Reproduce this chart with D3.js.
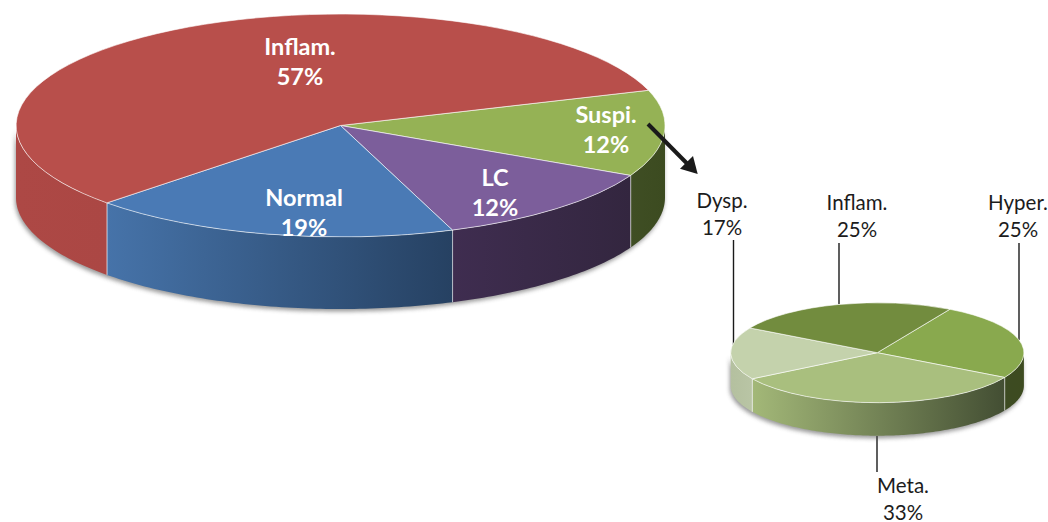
<!DOCTYPE html>
<html>
<head>
<meta charset="utf-8">
<script src="https://cdn.jsdelivr.net/npm/d3@7"></script>
<style>
  html, body { margin: 0; padding: 0; background: #fff; }
  svg { display: block; }
  text { font-family: Lato, "Open Sans", sans-serif; text-anchor: middle; }
</style>
</head>
<body>
<div id="chart"></div>
<script>
const mainCategories = ["Suspi.", "LC", "Normal", "Inflam."];
// slice sizes as measured on the picture, the printed labels are rounded differently
const mainValues = [12.5, 12, 18.4, 57.1];
const mainLabels = ["12%", "12%", "19%", "57%"];
const detailCategories = ["Hyper.", "Meta.", "Dysp.", "Inflam."];
const detailValues = [25, 33, 17, 25];
const detailLabels = ["25%", "33%", "17%", "25%"];

(function() {
  const width = 1048;
  const height = 522;
  const deg = Math.PI / 180;

  const svg = d3.select("#chart")
    .append("svg")
    .attr("width", width)
    .attr("height", height)
    .attr("viewBox", `0 0 ${width} ${height}`);

  const defs = svg.append("defs");
  defs.append("filter")
    .attr("id", "soft")
    .attr("x", "-5%").attr("y", "-10%").attr("width", "110%").attr("height", "120%")
    .append("feGaussianBlur")
    .attr("stdDeviation", 2.2);

  // one 3D pie: flat top from d3.arc, the front wall sampled along the rim
  function drawPie(id, o) {
    const g = svg.append("g").attr("class", id);
    const slices = d3.pie().sort(null)
      .startAngle(o.start * deg)
      .endAngle((o.start + 360) * deg)(o.values);

    const px = a => o.cx + o.rx * Math.sin(a);
    const py = a => o.cy - o.ry * Math.cos(a);
    const line = d3.line();

    const wallPoints = (a0, a1) => {
      const n = Math.max(2, Math.ceil((a1 - a0) / deg));
      const angles = d3.range(n + 1).map(i => a0 + (a1 - a0) * i / n);
      const topEdge = angles.map(a => [px(a), py(a)]);
      const bottomEdge = angles.slice().reverse().map(a => [px(a), py(a) + o.depth]);
      return topEdge.concat(bottomEdge);
    };

    // shadow under the disc
    g.append("path")
      .attr("d", line(wallPoints(90 * deg, 270 * deg)) + "Z")
      .attr("transform", "translate(-1,2.5)")
      .attr("fill", "#555")
      .attr("opacity", 0.6)
      .attr("filter", "url(#soft)");

    slices.forEach((s, i) => {
      const a0 = Math.max(s.startAngle, 90 * deg);
      const a1 = Math.min(s.endAngle, 270 * deg);
      if (a1 <= a0) return;
      const gid = `${id}-wall-${i}`;
      const gr = defs.append("linearGradient")
        .attr("id", gid)
        .attr("gradientUnits", "userSpaceOnUse")
        .attr("x1", Math.min(px(a0), px(a1)))
        .attr("x2", Math.max(px(a0), px(a1)))
        .attr("y1", 0).attr("y2", 0);
      gr.append("stop").attr("offset", 0).attr("stop-color", o.wallColors[i][0]);
      gr.append("stop").attr("offset", 1).attr("stop-color", o.wallColors[i][1]);

      g.append("path")
        .attr("d", line(wallPoints(a0, a1)) + "Z")
        .attr("fill", `url(#${gid})`);

      // seam between two walls
      [s.startAngle, s.endAngle].forEach(a => {
        if (a > 90.5 * deg && a < 269.5 * deg) {
          g.append("line")
            .attr("x1", px(a)).attr("x2", px(a))
            .attr("y1", py(a)).attr("y2", py(a) + o.depth)
            .attr("stroke", "#fff")
            .attr("stroke-opacity", 0.5)
            .attr("stroke-width", 1);
        }
      });
    });

    const arc = d3.arc().innerRadius(0).outerRadius(1);
    g.selectAll("path.top")
      .data(slices)
      .join("path")
      .attr("class", "top")
      .attr("d", arc)
      .attr("transform", `translate(${o.cx},${o.cy}) scale(${o.rx},${o.ry})`)
      .attr("fill", (d, i) => o.topColors[i])
      .attr("stroke", "#fff")
      .attr("stroke-opacity", 0.6)
      .attr("stroke-width", 1)
      .attr("vector-effect", "non-scaling-stroke");
  }

  // leader lines go under the small pie
  const leaders = [
    [733.5, 240, 358],
    [839, 243, 304],
    [1019, 243, 340],
    [877, 436, 472]
  ];
  svg.append("g").selectAll("line")
    .data(leaders)
    .join("line")
    .attr("x1", d => d[0]).attr("x2", d => d[0])
    .attr("y1", d => d[1]).attr("y2", d => d[2])
    .attr("stroke", "#1a1a1a")
    .attr("stroke-width", 1.4);

  drawPie("main", {
    cx: 340.5, cy: 125.5, rx: 324.5, ry: 111.5, depth: 72, start: 71.6,
    values: mainValues,
    topColors: ["#95b255", "#7c5e9b", "#4a7ab5", "#b84f4b"],
    wallColors: [
      ["#3f4e24", "#3c4b20"],
      ["#3f2d50", "#33263f"],
      ["#4673a9", "#264162"],
      ["#ad4845", "#ab4744"]
    ]
  });

  drawPie("detail", {
    cx: 877.3, cy: 352.7, rx: 146.6, ry: 50, depth: 33, start: 29.7,
    values: detailValues,
    topColors: ["#89a94e", "#a9bf7e", "#c4d2ac", "#728c3e"],
    wallColors: [
      ["#3d4b22", "#3d4b20"],
      ["#a3b878", "#434e33"],
      ["#b4c09f", "#b9c5a5"],
      ["#728c3e", "#728c3e"]
    ]
  });

  // arrow from the Suspi. slice to the detail pie
  svg.append("line")
    .attr("x1", 648).attr("y1", 124)
    .attr("x2", 689).attr("y2", 165.5)
    .attr("stroke", "#1a1a1a")
    .attr("stroke-width", 4);
  svg.append("path")
    .attr("d", d3.line()([[693, 156], [680, 168.7], [697.7, 174]]) + "Z")
    .attr("fill", "#1a1a1a");

  // labels of the big pie
  const mainLabelPos = [[606, 115], [495, 178], [304, 198], [300, 47]];
  mainCategories.forEach((c, i) => {
    const t = svg.append("text")
      .attr("fill", "#fff")
      .attr("font-weight", 700)
      .attr("font-size", 23.5);
    t.append("tspan").attr("x", mainLabelPos[i][0]).attr("y", mainLabelPos[i][1] + 8).text(c);
    t.append("tspan").attr("x", mainLabelPos[i][0]).attr("y", mainLabelPos[i][1] + 38).text(mainLabels[i]);
  });

  // labels of the small pie
  const detailLabelPos = [[1018, 203], [903, 486], [722, 201], [857, 203]];
  detailCategories.forEach((c, i) => {
    const t = svg.append("text")
      .attr("fill", "#1c1c1c")
      .attr("font-size", 20.5);
    t.append("tspan").attr("x", detailLabelPos[i][0]).attr("y", detailLabelPos[i][1] + 7).text(c);
    t.append("tspan").attr("x", detailLabelPos[i][0]).attr("y", detailLabelPos[i][1] + 34).text(detailLabels[i]);
  });
})();
</script>
</body>
</html>
